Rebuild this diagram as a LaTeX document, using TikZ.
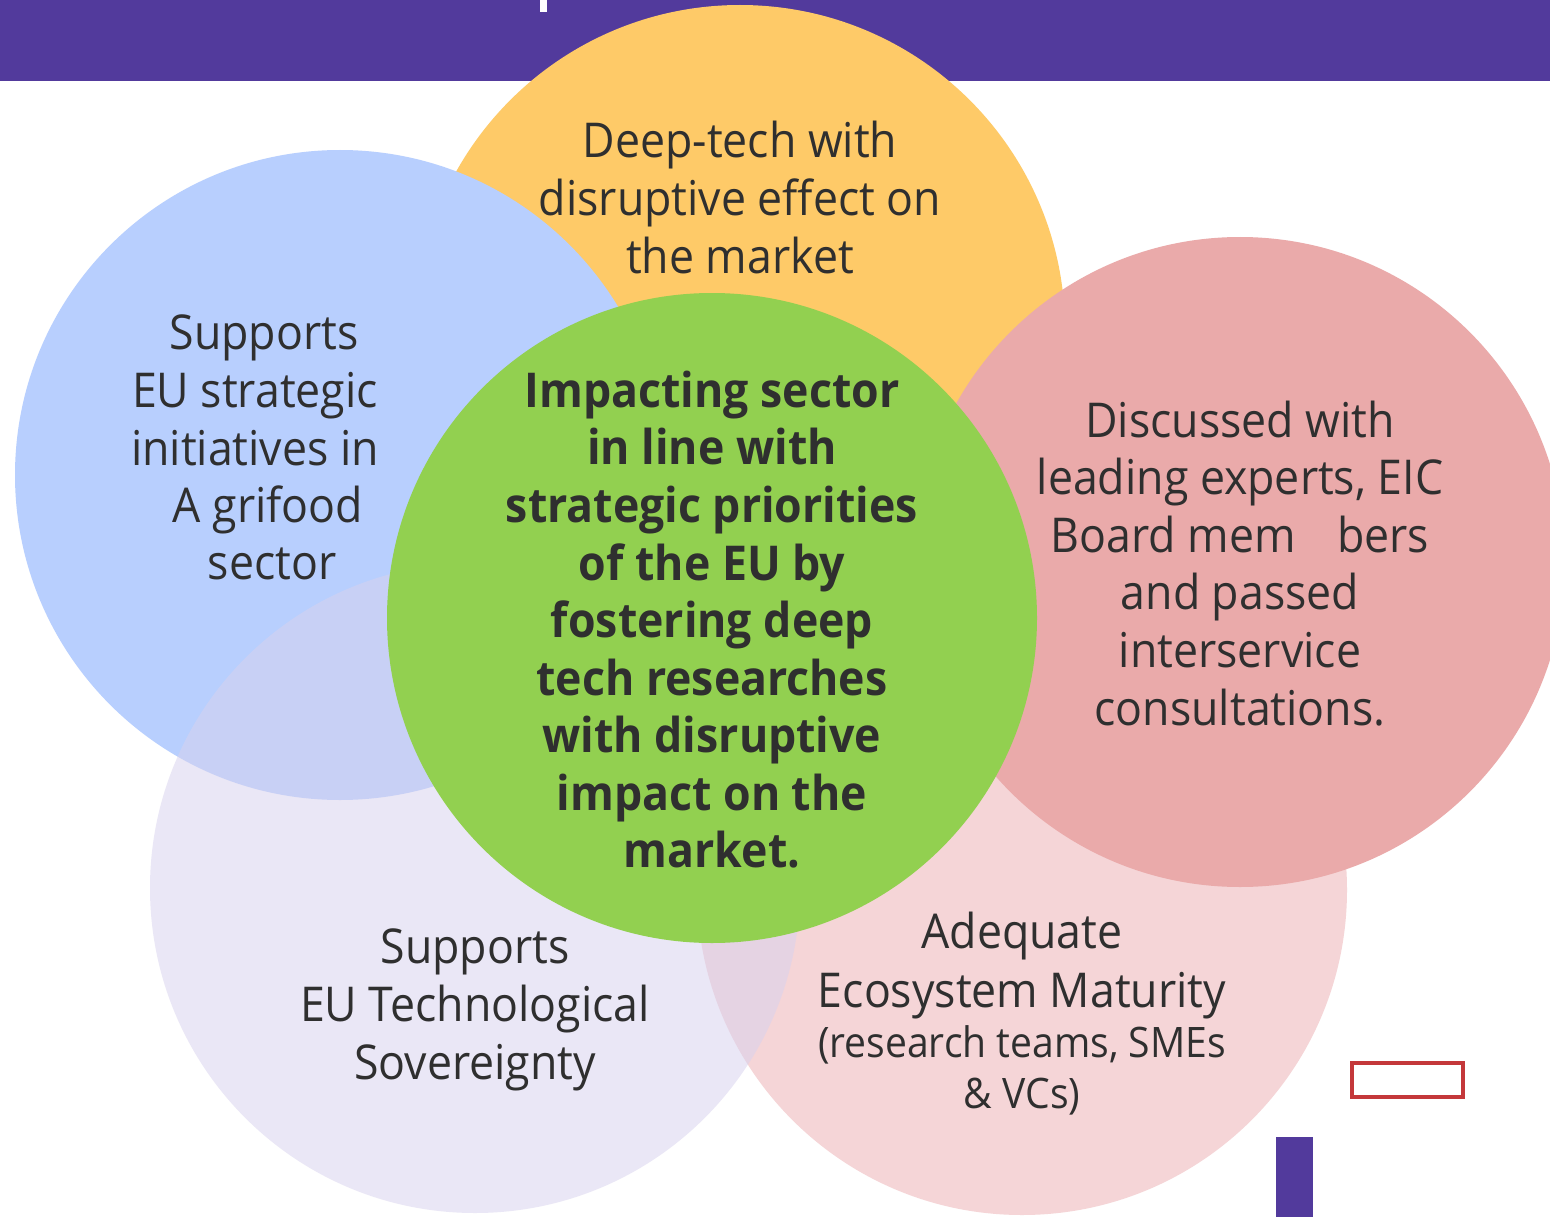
\documentclass[tikz,border=0pt]{standalone}
\usepackage{fontspec}
\setmainfont{Open Sans}[FakeStretch=0.93]
\definecolor{barpurple}{RGB}{82,58,156}
\definecolor{cyellow}{RGB}{254,202,104}
\definecolor{cblue}{RGB}{184,207,254}
\definecolor{cpinkA}{RGB}{234,170,170}
\definecolor{cpinkB}{RGB}{245,213,215}
\definecolor{clav}{RGB}{216,210,238}
\definecolor{cgreen}{RGB}{146,208,80}
\definecolor{textgray}{RGB}{47,47,47}
\definecolor{boxred}{RGB}{196,56,58}
\begin{document}
\begin{tikzpicture}[x=1pt,y=-1pt,
  txt/.style={anchor=base, inner sep=0pt, text=textgray, font=\fontsize{48}{57.6}\selectfont},
  smalltxt/.style={txt, font=\fontsize{42}{50}\selectfont},
  boldtxt/.style={txt, font=\fontsize{48}{57.6}\selectfont\bfseries},
  bubble/.style={draw=none}]
\useasboundingbox (0,0) rectangle (1550,1217);
\clip (0,0) rectangle (1550,1217);
\fill[white] (0,0) rectangle (1550,1217);
% top bar
\fill[barpurple] (0,0) rectangle (1550,81);
\fill[white] (540,0) rectangle (547,12);
% circles
\fill[cyellow] (740,330) circle (325pt);
\fill[cblue] (340,475) circle (325pt);
\fill[cpinkB] (1022,890) circle (325pt);
\fill[cpinkA] (1240,562) circle (325pt);
\fill[clav, fill opacity=0.53] (475,888) circle (325pt);
\fill[cgreen] (712,618) circle (325pt);
% yellow text
\node[txt] (y1) at (740,158) {Deep-tech with};
\node[txt] (y2) at (740,216) {disruptive effect on};
\node[txt] (y3) at (740,273) {the market};
% blue text
\node[txt] (b1) at (264,349) {Supports};
\node[txt] (b2) at (255,407) {EU strategic};
\node[txt] (b3) at (255,465) {initiatives in};
\node[txt] (b4) at (268,522) {A grifood};
\node[txt] (b5) at (272,579) {sector};
% green text
\node[boldtxt] (g1) at (712,407) {Impacting sector};
\node[boldtxt] (g2) at (712,464) {in line with};
\node[boldtxt] (g3) at (712,522) {strategic priorities};
\node[boldtxt] (g4) at (712,580) {of the EU by};
\node[boldtxt] (g5) at (712,637) {fostering deep};
\node[boldtxt] (g6) at (712,695) {tech researches};
\node[boldtxt] (g7) at (712,752) {with disruptive};
\node[boldtxt] (g8) at (712,810) {impact on the};
\node[boldtxt] (g9) at (712,867) {market.};
% right pink text
\node[txt] (p1) at (1240,437) {Discussed with};
\node[txt] (p2) at (1240,494) {leading experts, EIC};
\node[txt] (p3) at (1240,552) {Board mem\hspace{30pt} bers};
\node[txt] (p4) at (1240,609) {and passed};
\node[txt] (p5) at (1240,667) {interservice};
\node[txt] (p6) at (1240,725) {consultations.};
% lavender text
\node[txt] (l1) at (475,963) {Supports};
\node[txt] (l2) at (475,1021) {EU Technological};
\node[txt] (l3) at (475,1079) {Sovereignty};
% bottom pink text
\node[txt] (q1) at (1022,948) {Adequate};
\node[txt] (q2) at (1022,1007) {Ecosystem Maturity};
\node[smalltxt] (q3) at (1022,1057) {(research teams, SMEs};
\node[smalltxt] (q4) at (1022,1108) {\& VCs)};
% decorations bottom right
\draw[boxred, line width=3.3pt] (1352,1063) rectangle (1463,1097);
\fill[barpurple] (1276,1137) rectangle (1313,1217);
\end{tikzpicture}
\end{document}
